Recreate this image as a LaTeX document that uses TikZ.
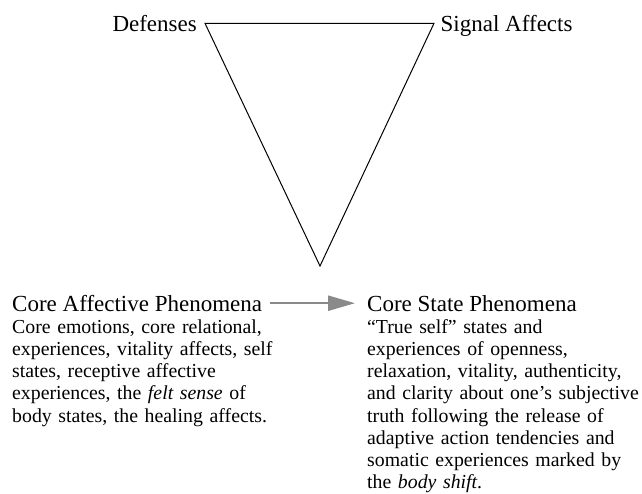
\documentclass[tikz,border=0pt]{standalone}
\usepackage{fontspec}
\setmainfont{Liberation Serif}
\usetikzlibrary{arrows.meta}
\definecolor{arrowgray}{HTML}{8A8A8A}
\tikzset{
  heading/.style={inner sep=0pt, font=\fontsize{23}{27}\selectfont},
  bodytext/.style={inner sep=0pt, text width=300pt, align=left,
    font=\fontsize{19.8}{22.2}\selectfont},
  triangle edge/.style={line width=1pt, line join=miter},
  flow/.style={draw=arrowgray, line width=2.4pt,
    -{Triangle[length=27pt,width=15pt]}, fill=arrowgray},
}
\begin{document}
\begin{tikzpicture}[x=1pt,y=-1pt]
\useasboundingbox (0,0) rectangle (642,493);

% inverted triangle
\coordinate (tl) at (205,23.3);
\coordinate (tr) at (434,23.3);
\coordinate (bt) at (320,266);
\draw[triangle edge] (tl) -- (tr) -- (bt) -- cycle;

\node[heading, anchor=base east] (def) at (197,31) {Defenses};
\node[heading, anchor=base west] (sig) at (440.5,31) {Signal Affects};

% lower left block
\node[heading, anchor=base west] (cap) at (12,311.7) {Core Affective Phenomena};
\node[bodytext, anchor=base west] (capbody) at (12,333.3)
  {Core emotions, core relational,\\
   experiences, vitality affects, self\\
   states, receptive affective\\
   experiences, the \textit{felt sense} of\\
   body states, the healing affects.};

% lower right block
\node[heading, anchor=base west] (csp) at (367,311.7) {Core State Phenomena};
\node[bodytext, anchor=base west] (cspbody) at (367,333.3)
  {“True self” states and\\
   experiences of openness,\\
   relaxation, vitality, authenticity,\\
   and clarity about one’s subjective\\
   truth following the release of\\
   adaptive action tendencies and\\
   somatic experiences marked by\\
   the \textit{body shift}.};

\draw[flow] ([xshift=8pt,yshift=8.5pt]cap.base east) -- ([xshift=-12pt,yshift=8.5pt]csp.base west);
\end{tikzpicture}
\end{document}
